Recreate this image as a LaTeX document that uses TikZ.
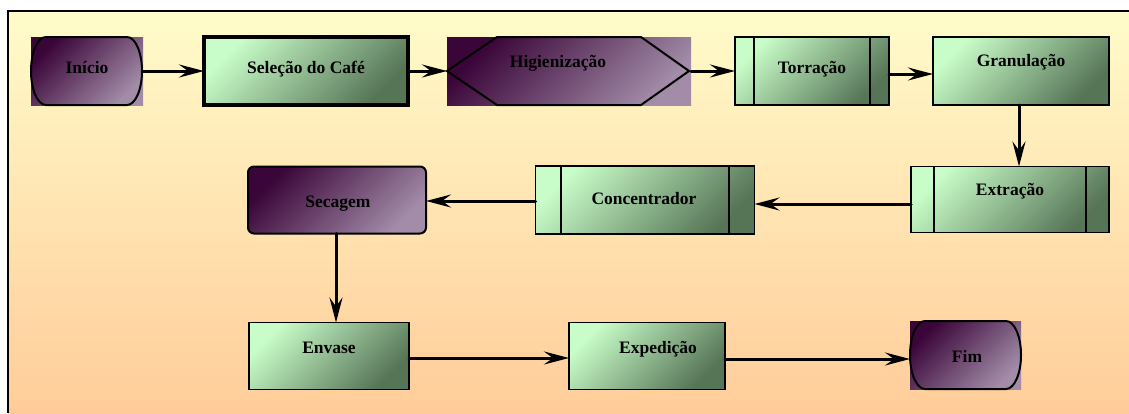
\documentclass[tikz,border=0pt]{standalone}
\usepackage{fontspec}
\setmainfont{Liberation Serif}
\usetikzlibrary{arrows.meta}
\definecolor{bgtop}{HTML}{FFFCCA}
\definecolor{bgbot}{HTML}{FFCC99}
\definecolor{gl}{HTML}{C8FCC8}
\definecolor{gd}{HTML}{567456}
\definecolor{pd}{HTML}{3A0538}
\definecolor{pl}{HTML}{A28CA8}
\begin{document}
\begin{tikzpicture}[x=1pt,y=-1pt,
  greenbox/.style={rectangle, draw=black, line width=1.5pt, inner sep=0pt, outer sep=0pt,
    top color=gl, bottom color=gd, shading angle=45},
  pbox/.style={rectangle, inner sep=0pt, outer sep=0pt,
    top color=pd, bottom color=pl, shading angle=45},
  pborder/.style={draw=black, line width=2pt},
  inner/.style={draw=black, line width=1.5pt},
  lbl/.style={font=\fontsize{17.5}{20}\selectfont\bfseries, inner sep=0pt, anchor=base, text=black},
  arr/.style={draw=black, line width=3pt, line cap=round, -{Stealth[length=25pt, width=13pt, inset=9pt]}}
]
\useasboundingbox (0,0) rectangle (1129,413);
\shade[top color=bgtop, bottom color=bgbot] (8,11) rectangle (1129,413);
\draw[line width=2.5pt] (8,413) -- (8,11) -- (1129,11);

% Inicio
\node[pbox, minimum width=112pt, minimum height=68pt] (inicio) at (87,71) {};
\draw[pborder] (46,37) -- (127,37) arc[start angle=-90, end angle=90, x radius=15, y radius=34]
  -- (46,105) arc[start angle=90, end angle=270, x radius=15, y radius=34] -- cycle;
\node[lbl] (tinicio) at (87,73) {Início};

% Selecao
\node[greenbox, line width=3.5pt, minimum width=204pt, minimum height=68pt] (selecao) at (306,71) {};
\node[lbl] (tselecao) at (306,73) {Seleção do Café};

% Higienizacao
\node[pbox, minimum width=244pt, minimum height=68pt] (hig) at (569,71) {};
\draw[pborder] (447,71) -- (497,37) -- (641,37) -- (689,71) -- (641,105) -- (497,105) -- cycle;
\node[lbl] (thig) at (558,67) {Higienização};

% Torracao
\node[greenbox, minimum width=154pt, minimum height=68pt] (torr) at (812,71) {};
\draw[inner] (754,37) -- (754,105);
\draw[inner] (870,37) -- (870,105);
\node[lbl] (ttorr) at (812,73) {Torração};

% Granulacao
\node[greenbox, minimum width=176pt, minimum height=68pt] (gran) at (1021,71) {};
\node[lbl] (tgran) at (1021,66) {Granulação};

% Extracao
\node[greenbox, minimum width=198pt, minimum height=66pt] (extr) at (1010,199.5) {};
\draw[inner] (934,166.5) -- (934,232.5);
\draw[inner] (1086,166.5) -- (1086,232.5);
\node[lbl] (textr) at (1010,195) {Extração};

% Concentrador
\node[greenbox, minimum width=219pt, minimum height=68pt] (conc) at (645,200) {};
\draw[inner] (561,166) -- (561,234);
\draw[inner] (729,166) -- (729,234);
\node[lbl] (tconc) at (644,204) {Concentrador};

% Secagem
\node[pbox, rounded corners=6pt, draw=black, line width=2pt, minimum width=178pt, minimum height=67pt] (sec) at (337,200) {};
\node[lbl] (tsec) at (338,207) {Secagem};

% Envase
\node[greenbox, minimum width=160pt, minimum height=67pt] (env) at (329,356) {};
\node[lbl] (tenv) at (329,353) {Envase};

% Expedicao
\node[greenbox, minimum width=156pt, minimum height=67pt] (exped) at (647,356) {};
\node[lbl] (texped) at (658,353) {Expedição};

% Fim
\node[pbox, minimum width=111pt, minimum height=68pt] (fim) at (965.5,355) {};
\draw[pborder] (925,321) -- (1006,321) arc[start angle=-90, end angle=90, x radius=15, y radius=34]
  -- (925,389) arc[start angle=90, end angle=270, x radius=15, y radius=34] -- cycle;
\node[lbl] (tfim) at (967,362) {Fim};

% connectors
\draw[arr] (inicio.east) -- (selecao.west);
\draw[arr] (selecao.east) -- (hig.west);
\draw[arr] (hig.east) -- (torr.west);
\draw[arr] (torr.east |- 0,74) -- (gran.west |- 0,74);
\draw[arr] (1019,0 |- gran.south) -- (1019,0 |- extr.north);
\draw[arr] (extr.west |- 0,204) -- (conc.east |- 0,204);
\draw[arr] (conc.west |- 0,201) -- (sec.east |- 0,201);
\draw[arr] (336,0 |- sec.south) -- (336,0 |- env.north);
\draw[arr] (env.east |- 0,358) -- (exped.west |- 0,358);
\draw[arr] (exped.east |- 0,359) -- (fim.west |- 0,359);
\end{tikzpicture}
\end{document}
